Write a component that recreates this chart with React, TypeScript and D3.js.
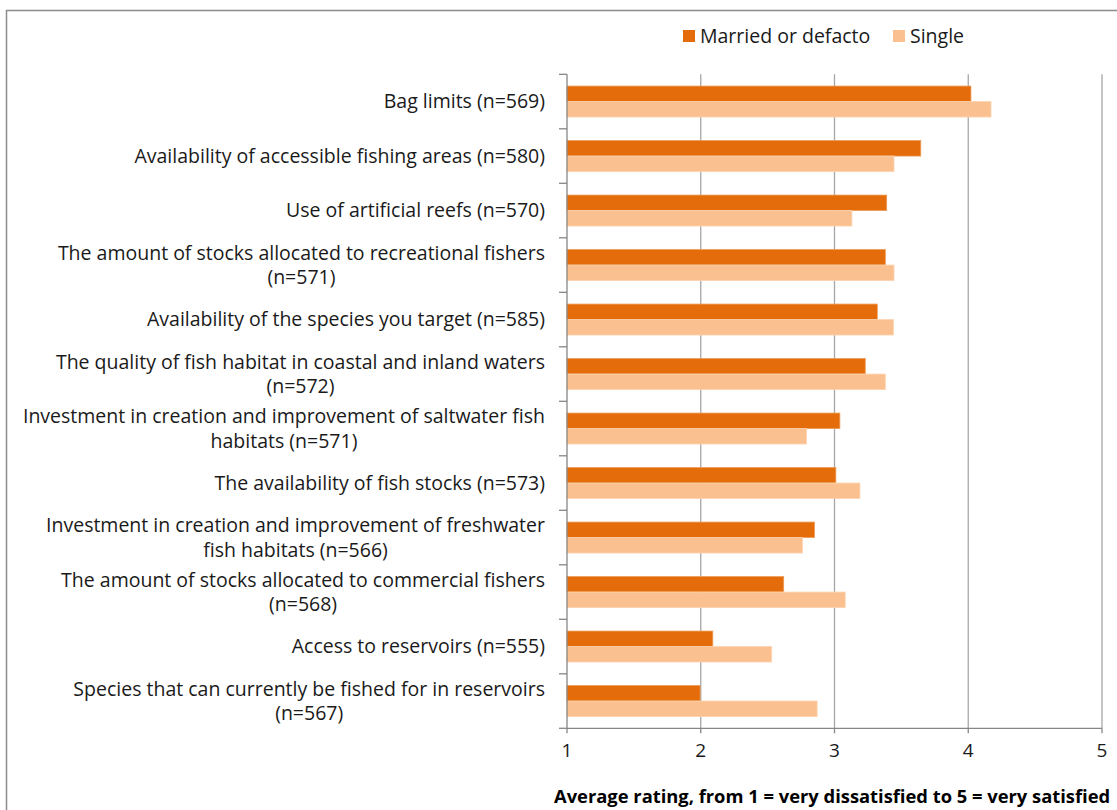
import React, { useEffect, useRef } from "react";
import * as d3 from "d3";

// Survey items, top to bottom; multi-line labels are split where they wrap
const categories: string[][] = [
  ["Bag limits (n=569)"],
  ["Availability of accessible fishing areas (n=580)"],
  ["Use of artificial reefs (n=570)"],
  ["The amount of stocks allocated to recreational fishers", "(n=571)"],
  ["Availability of the species you target (n=585)"],
  ["The quality of fish habitat in coastal and inland waters", "(n=572)"],
  ["Investment in creation and improvement of saltwater fish", "habitats (n=571)"],
  ["The availability of fish stocks (n=573)"],
  ["Investment in creation and improvement of freshwater", "fish habitats (n=566)"],
  ["The amount of stocks allocated to commercial fishers", "(n=568)"],
  ["Access to reservoirs (n=555)"],
  ["Species that can currently be fished for in reservoirs", "(n=567)"],
];

const married: number[] = [4.02, 3.645, 3.39, 3.38, 3.32, 3.23, 3.04, 3.01, 2.85, 2.62, 2.09, 1.995];
const single: number[] = [4.17, 3.445, 3.13, 3.445, 3.44, 3.38, 2.79, 3.19, 2.76, 3.08, 2.53, 2.87];

const seriesNames = ["Married or defacto", "Single"];
const seriesColors = ["#E46C0A", "#FAC090"];
const xTicks = [1, 2, 3, 4, 5];
const axisTitle = "Average rating, from 1 = very dissatisfied to 5 = very satisfied";

const W = 1117;
const H = 810;
const FONT = "'Open Sans', 'Noto Sans', sans-serif";
const LABEL_SIZE = 19.5;

export default function App() {
  const ref = useRef<SVGSVGElement>(null);

  useEffect(() => {
    const svg = d3.select(ref.current);
    svg.selectAll("*").remove();

    const x = d3.scaleLinear().domain([1, 5]).range([567, 1102]);
    const keys = categories.map((_, i) => String(i));
    const y = d3.scaleBand<string>().domain(keys).range([74.3, 728.3]);
    const sub = d3
      .scaleBand<string>()
      .domain(seriesNames)
      .range([0, y.bandwidth()])
      .paddingInner(0)
      .paddingOuter(0.76);

    // frame around the chart area
    svg
      .append("rect")
      .attr("x", 6.5)
      .attr("y", 10.5)
      .attr("width", 1300)
      .attr("height", 1000)
      .attr("fill", "#fff")
      .attr("stroke", "#8C8C8C")
      .attr("stroke-width", 1.5);

    // vertical gridlines
    svg
      .append("g")
      .selectAll("line")
      .data(xTicks.slice(1))
      .join("line")
      .attr("x1", (d) => x(d))
      .attr("x2", (d) => x(d))
      .attr("y1", y.range()[0])
      .attr("y2", y.range()[1])
      .attr("stroke", "#A6A6A6")
      .attr("stroke-width", 1.3);

    // bars
    const rows = categories.map((c, i) => ({ key: String(i), vals: [married[i], single[i]] }));
    const g = svg.append("g");
    rows.forEach((r) => {
      r.vals.forEach((v, si) => {
        g.append("rect")
          .attr("x", x(1))
          .attr("y", (y(r.key) as number) + (sub(seriesNames[si]) as number))
          .attr("width", x(v) - x(1))
          .attr("height", sub.bandwidth())
          .attr("fill", seriesColors[si])
          .attr("stroke", si === 0 ? "#EE9A55" : "#FCD3B0")
          .attr("stroke-width", 0.8);
      });
    });

    // category axis with ticks between bands
    const axisColor = "#868686";
    svg
      .append("line")
      .attr("x1", x(1))
      .attr("x2", x(1))
      .attr("y1", y.range()[0])
      .attr("y2", y.range()[1])
      .attr("stroke", axisColor)
      .attr("stroke-width", 1.3);
    const bounds = keys.map((k) => y(k) as number).concat([y.range()[1]]);
    svg
      .append("g")
      .selectAll("line")
      .data(bounds)
      .join("line")
      .attr("x1", x(1) - 8)
      .attr("x2", x(1))
      .attr("y1", (d) => d)
      .attr("y2", (d) => d)
      .attr("stroke", axisColor)
      .attr("stroke-width", 1.3);

    // value axis
    svg
      .append("line")
      .attr("x1", x(1))
      .attr("x2", x(5))
      .attr("y1", y.range()[1])
      .attr("y2", y.range()[1])
      .attr("stroke", axisColor)
      .attr("stroke-width", 1.3);
    svg
      .append("g")
      .selectAll("line")
      .data(xTicks)
      .join("line")
      .attr("x1", (d) => x(d))
      .attr("x2", (d) => x(d))
      .attr("y1", y.range()[1])
      .attr("y2", y.range()[1] + 5)
      .attr("stroke", axisColor)
      .attr("stroke-width", 1.3);
    svg
      .append("g")
      .selectAll("text")
      .data(xTicks)
      .join("text")
      .attr("x", (d) => x(d))
      .attr("y", 757)
      .attr("text-anchor", "middle")
      .attr("font-family", FONT)
      .attr("font-size", 19)
      .attr("fill", "#1a1a1a")
      .text((d) => String(d));

    svg
      .append("text")
      .attr("x", 554)
      .attr("y", 803)
      .attr("font-family", FONT)
      .attr("font-size", 18.35)
      .attr("font-weight", "bold")
      .attr("fill", "#000")
      .text(axisTitle);

    // category labels: block right-aligned, lines centred within the block
    const labelRight = 545;
    const lineH = 24.5;
    categories.forEach((lines, i) => {
      const cy = (y(String(i)) as number) + y.bandwidth() / 2;
      const lg = svg.append("g");
      const texts = lines.map((t, li) =>
        lg
          .append("text")
          .attr("y", cy + (li - (lines.length - 1) / 2) * lineH + 6.8)
          .attr("font-family", FONT)
          .attr("font-size", LABEL_SIZE)
          .attr("fill", "#1a1a1a")
          .text(t)
      );
      const widths = texts.map((t) => (t.node() as SVGTextElement).getComputedTextLength());
      const blockW = Math.max(...widths);
      texts.forEach((t) => t.attr("x", labelRight - blockW / 2).attr("text-anchor", "middle"));
    });

    // legend
    const lx = [683, 893];
    seriesNames.forEach((name, i) => {
      svg
        .append("rect")
        .attr("x", lx[i])
        .attr("y", 30)
        .attr("width", 12)
        .attr("height", 12)
        .attr("fill", seriesColors[i]);
      svg
        .append("text")
        .attr("x", lx[i] + 17)
        .attr("y", 42.5)
        .attr("font-family", FONT)
        .attr("font-size", LABEL_SIZE)
        .attr("fill", "#1a1a1a")
        .text(name);
    });
  }, []);

  return (
    <svg
      ref={ref}
      width={W}
      height={H}
      style={{ position: "absolute", left: 0, top: 0, display: "block", background: "#fff" }}
    />
  );
}
